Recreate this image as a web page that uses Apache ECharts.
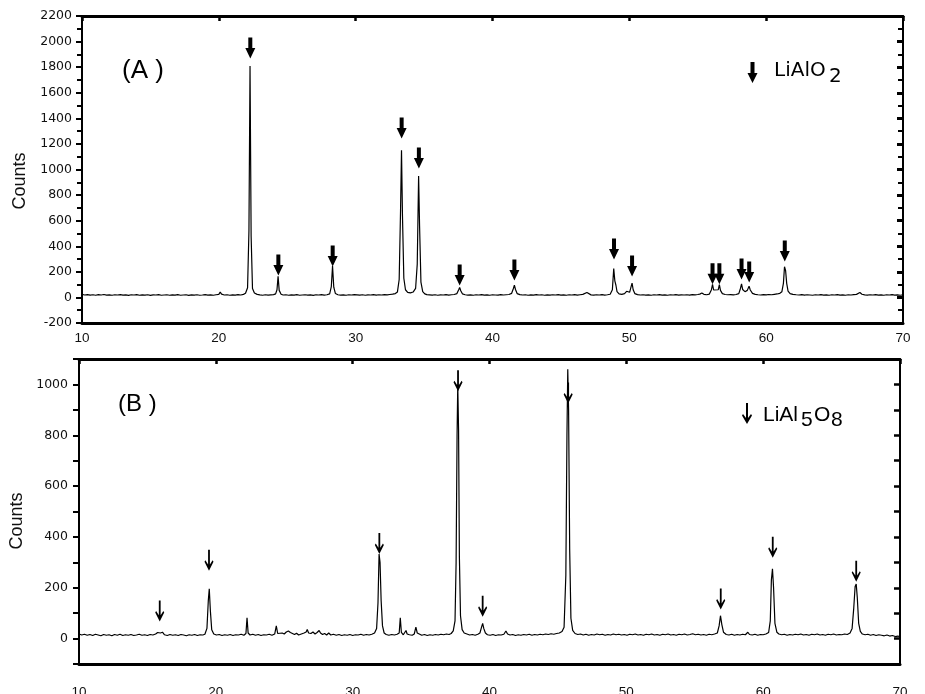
<!DOCTYPE html>
<html>
<head>
<meta charset="utf-8">
<script src="https://cdn.jsdelivr.net/npm/echarts@6/dist/echarts.min.js"></script>
<style>
html,body{margin:0;padding:0;background:#fff;}
#chart{width:925px;height:694px;}
</style>
</head>
<body>
<div id="chart"></div>
<script>
// ---- Panel A: LiAlO2 pattern (2theta, counts) ----
const patternA = [
[10.0,24],[10.2,19],[10.4,22],[10.6,18],[10.8,21],[11.0,17],[11.2,22],[11.4,19],[11.6,23],[11.8,18],
[12.0,20],[12.2,17],[12.4,21],[12.6,19],[12.8,22],[13.0,18],[13.2,20],[13.4,16],[13.6,21],[13.8,19],
[14.0,22],[14.2,17],[14.4,20],[14.6,18],[14.8,21],[15.0,16],[15.2,20],[15.4,19],[15.6,22],[15.8,17],
[16.0,19],[16.2,21],[16.4,17],[16.6,20],[16.8,18],[17.0,22],[17.2,17],[17.4,19],[17.6,21],[17.8,16],
[18.0,20],[18.2,18],[18.4,21],[18.6,17],[18.8,19],[19.0,22],[19.2,18],[19.4,20],[19.6,17],[19.8,21],
[20.0,24],[20.1,42],[20.2,26],[20.4,19],[20.6,21],[20.8,17],[21.0,20],[21.2,18],[21.4,22],[21.6,19],
[21.8,24],[21.95,32],[22.1,75],[22.2,520],[22.28,1810],[22.36,480],[22.46,70],[22.6,34],[22.8,24],
[23.0,20],[23.2,17],[23.4,21],[23.6,18],[23.8,20],[24.0,22],[24.15,28],[24.25,60],[24.33,165],[24.41,55],
[24.55,25],[24.7,19],[24.9,21],[25.1,17],[25.3,20],[25.5,18],[25.7,22],[25.9,17],[26.1,19],[26.3,21],
[26.5,18],[26.7,20],[26.9,16],[27.1,21],[27.3,19],[27.5,22],[27.7,18],[27.9,21],[28.1,28],[28.22,85],
[28.31,245],[28.4,80],[28.52,30],[28.7,21],[28.9,18],[29.1,20],[29.3,17],[29.5,21],[29.7,19],[29.9,22],
[30.0,30],[30.1,20],[30.3,18],[30.5,21],[30.7,17],[30.9,20],[31.1,19],[31.3,22],[31.5,18],[31.7,21],
[31.9,19],[32.1,22],[32.3,20],[32.5,23],[32.7,26],[32.9,30],[33.05,42],[33.18,140],[33.28,680],[33.35,1150],
[33.42,640],[33.52,150],[33.64,60],[33.8,40],[34.0,35],[34.2,42],[34.38,70],[34.5,260],[34.6,950],[34.67,560],
[34.77,120],[34.9,45],[35.05,28],[35.2,22],[35.4,20],[35.6,18],[35.8,21],[36.0,17],[36.2,20],[36.4,19],
[36.6,22],[36.8,18],[37.0,21],[37.2,23],[37.4,30],[37.52,58],[37.6,78],[37.68,52],[37.8,28],[38.0,21],
[38.2,18],[38.4,20],[38.6,17],[38.8,21],[39.0,19],[39.2,22],[39.4,18],[39.6,20],[39.8,17],[40.0,21],
[40.2,19],[40.4,18],[40.6,22],[40.8,19],[41.0,21],[41.2,23],[41.4,32],[41.52,68],[41.6,95],[41.68,62],
[41.8,30],[42.0,22],[42.2,19],[42.4,21],[42.6,17],[42.8,20],[43.0,18],[43.2,22],[43.4,19],[43.6,21],
[43.8,17],[44.0,20],[44.2,18],[44.4,21],[44.6,19],[44.8,22],[45.0,18],[45.2,20],[45.4,17],[45.6,21],
[45.8,19],[46.0,22],[46.2,18],[46.4,21],[46.6,24],[46.9,38],[47.0,25],[47.2,20],[47.4,18],[47.6,21],
[47.8,19],[48.0,22],[48.2,18],[48.4,21],[48.6,25],[48.76,60],[48.86,225],[48.94,130],[49.02,95],[49.1,45],
[49.25,28],[49.45,24],[49.65,30],[49.8,48],[49.9,35],[50.02,40],[50.12,80],[50.2,112],[50.28,60],[50.4,30],
[50.6,22],[50.8,19],[51.0,21],[51.2,18],[51.4,20],[51.6,17],[51.8,21],[52.0,19],[52.2,22],[52.4,18],
[52.6,20],[52.8,17],[53.0,21],[53.2,19],[53.4,22],[53.6,18],[53.8,20],[54.0,19],[54.2,21],[54.4,18],
[54.6,22],[54.8,20],[55.0,23],[55.15,26],[55.3,34],[55.45,24],[55.65,21],[55.85,26],[56.0,60],[56.08,102],
[56.16,58],[56.3,45],[56.5,60],[56.58,100],[56.66,55],[56.8,30],[57.0,23],[57.2,21],[57.4,22],[57.6,20],
[57.8,23],[58.0,30],[58.12,70],[58.2,105],[58.28,62],[58.45,45],[58.62,55],[58.75,88],[58.84,58],[59.0,32],
[59.2,24],[59.4,21],[59.6,19],[59.8,22],[60.0,20],[60.2,23],[60.4,21],[60.6,24],[60.8,27],[61.0,32],
[61.15,45],[61.26,110],[61.34,240],[61.42,210],[61.5,110],[61.6,50],[61.75,30],[61.95,24],[62.2,21],[62.4,19],
[62.6,22],[62.8,18],[63.0,21],[63.2,19],[63.4,17],[63.6,21],[63.8,19],[64.0,22],[64.2,18],[64.4,20],
[64.6,17],[64.8,21],[65.0,19],[65.2,22],[65.4,18],[65.6,20],[65.8,17],[66.0,21],[66.2,19],[66.4,22],
[66.6,24],[66.85,38],[67.0,25],[67.2,20],[67.4,18],[67.6,21],[67.8,19],[68.0,22],[68.2,18],[68.4,20],
[68.6,17],[68.8,21],[69.0,19],[69.2,22],[69.4,18],[69.6,20],[69.8,17],[70.0,20]
];
// arrow tips for panel A (2theta, counts at the arrow tip)
const arrowsA = [
[22.3,1867],[24.35,172],[28.32,242],[33.36,1242],[34.62,1008],[37.6,94],[41.6,133],[48.88,297],
[50.2,164],[56.08,102],[56.58,102],[58.2,141],[58.76,117],[61.36,281]
];

// ---- Panel B: LiAl5O8 pattern (2theta, counts) ----
const patternB = [
[10.0,18],[10.2,14],[10.4,17],[10.6,13],[10.8,16],[11.0,12],[11.2,17],[11.4,14],[11.6,11],[11.8,16],
[12.0,13],[12.2,15],[12.4,11],[12.6,16],[12.8,13],[13.0,17],[13.2,12],[13.4,15],[13.6,13],[13.8,16],
[14.0,12],[14.2,14],[14.4,17],[14.6,13],[14.8,15],[15.0,12],[15.2,16],[15.4,14],[15.6,18],[15.75,24],
[15.85,28],[15.95,22],[16.1,25],[16.25,15],[16.45,12],[16.65,16],[16.85,13],[17.05,15],[17.25,12],[17.45,16],
[17.65,14],[17.85,11],[18.05,15],[18.25,13],[18.45,16],[18.65,12],[18.85,15],[19.05,14],[19.2,17],[19.35,40],
[19.45,150],[19.52,196],[19.6,110],[19.7,35],[19.85,18],[20.05,14],[20.25,16],[20.45,12],[20.65,15],[20.85,13],
[21.05,16],[21.25,12],[21.45,15],[21.65,14],[21.85,17],[22.05,13],[22.2,20],[22.28,82],[22.36,22],[22.5,14],
[22.7,17],[22.9,13],[23.1,16],[23.3,12],[23.5,15],[23.7,14],[23.9,17],[24.1,13],[24.3,18],[24.42,50],
[24.52,20],[24.65,15],[24.85,22],[25.0,18],[25.15,26],[25.3,30],[25.45,24],[25.6,20],[25.75,16],[25.9,21],
[26.05,14],[26.25,18],[26.45,22],[26.6,26],[26.68,36],[26.78,22],[26.95,20],[27.1,26],[27.25,18],[27.4,24],
[27.55,32],[27.65,22],[27.8,16],[27.95,20],[28.1,14],[28.25,22],[28.4,14],[28.6,17],[28.8,13],[29.0,16],
[29.2,12],[29.4,15],[29.6,13],[29.8,16],[30.0,12],[30.2,15],[30.4,14],[30.6,17],[30.8,13],[31.0,16],
[31.2,14],[31.4,17],[31.6,22],[31.75,40],[31.85,140],[31.93,333],[32.0,300],[32.08,150],[32.18,50],[32.3,22],
[32.45,16],[32.65,13],[32.85,16],[33.05,14],[33.25,17],[33.4,22],[33.48,82],[33.56,24],[33.7,15],[33.82,20],
[33.9,32],[33.98,18],[34.15,15],[34.35,13],[34.5,18],[34.62,45],[34.72,22],[34.85,15],[35.05,13],[35.25,16],
[35.45,12],[35.65,15],[35.85,13],[36.05,16],[36.25,14],[36.45,17],[36.65,15],[36.85,18],[37.05,16],[37.2,20],
[37.35,30],[37.48,70],[37.56,300],[37.63,800],[37.68,1000],[37.74,820],[37.8,320],[37.88,90],[38.0,35],[38.15,22],
[38.35,18],[38.55,14],[38.75,16],[38.95,13],[39.15,17],[39.3,22],[39.42,45],[39.5,60],[39.58,40],[39.7,22],
[39.85,15],[40.05,13],[40.25,16],[40.45,12],[40.65,15],[40.85,14],[41.05,17],[41.2,30],[41.32,18],[41.5,14],
[41.7,16],[41.9,12],[42.1,15],[42.3,13],[42.5,16],[42.7,14],[42.9,17],[43.1,13],[43.3,16],[43.5,14],
[43.7,17],[43.9,15],[44.1,18],[44.3,16],[44.5,19],[44.7,17],[44.9,20],[45.1,22],[45.3,28],[45.45,45],
[45.58,250],[45.66,800],[45.72,1060],[45.78,900],[45.86,350],[45.95,80],[46.08,32],[46.25,20],[46.45,16],[46.65,18],
[46.85,14],[47.05,17],[47.25,13],[47.45,16],[47.65,14],[47.85,18],[48.05,15],[48.25,17],[48.45,13],[48.65,16],
[48.85,14],[49.05,18],[49.25,15],[49.45,17],[49.65,14],[49.85,16],[50.05,13],[50.25,17],[50.45,15],[50.65,18],
[50.85,14],[51.05,16],[51.25,13],[51.45,17],[51.65,15],[51.85,18],[52.05,14],[52.25,16],[52.45,13],[52.65,17],
[52.85,15],[53.05,18],[53.25,14],[53.45,16],[53.65,13],[53.85,17],[54.05,15],[54.25,18],[54.45,14],[54.65,16],
[54.85,19],[55.05,15],[55.25,17],[55.45,14],[55.65,16],[55.85,13],[56.05,17],[56.25,15],[56.45,18],[56.65,22],
[56.78,50],[56.88,90],[56.98,55],[57.1,25],[57.3,16],[57.5,14],[57.7,17],[57.9,13],[58.1,16],[58.3,14],
[58.5,17],[58.7,15],[58.88,25],[59.0,16],[59.2,14],[59.4,17],[59.6,13],[59.8,16],[60.0,15],[60.2,18],
[60.4,24],[60.52,70],[60.6,230],[60.68,275],[60.76,200],[60.86,60],[61.0,25],[61.15,18],[61.35,15],[61.55,17],
[61.75,13],[61.95,16],[62.15,14],[62.35,17],[62.55,15],[62.75,18],[62.95,14],[63.15,16],[63.35,13],[63.55,17],
[63.75,15],[63.95,18],[64.15,14],[64.35,16],[64.55,13],[64.75,17],[64.95,15],[65.15,18],[65.35,14],[65.55,16],
[65.75,15],[65.95,18],[66.15,16],[66.35,22],[66.5,40],[66.62,120],[66.72,205],[66.8,215],[66.88,160],[66.98,60],
[67.1,28],[67.25,18],[67.45,15],[67.65,17],[67.85,13],[68.05,16],[68.25,12],[68.45,15],[68.65,13],[68.85,11],
[69.05,14],[69.25,10],[69.45,12],[69.65,8],[69.85,10],[70.0,6]
];
const arrowsB = [
[15.9,67],[19.5,267],[31.95,333],[37.7,973],[39.5,86],[45.75,925],[56.9,114],[60.7,318],[66.8,224]
];

// axis ranges / ticks
const xMin = 10, xMax = 70, xStep = 10;
const yA = {min: -200, max: 2200, step: 200};
const yB = {min: -100, max: 1100, step: 100, labelStep: 200};

const fillArrow = 'path://M3,0 L7,0 L7,10 L10,10 L5,20 L0,10 L3,10 Z';
const thinArrow = 'path://M4,0 L6,0 L6,15.5 L9,11 L10,12.5 L5,22 L0,12.5 L1,11 L4,15.5 Z';

const chart = echarts.init(document.getElementById('chart'), null, {renderer: 'canvas'});
const black = '#000';
const yLabelFont = {fontFamily: 'DejaVu Sans', fontSize: 12.5, color: '#111'};
const xLabelFont = {fontFamily: 'Liberation Sans', fontSize: 13.5, color: '#111'};

function bottomX(gi, margin) {
  return {type: 'value', gridIndex: gi, min: xMin, max: xMax, interval: xStep, position: 'bottom',
    axisLine: {onZero: false, lineStyle: {color: black, width: 3}},
    axisTick: {show: false}, splitLine: {show: false},
    axisLabel: Object.assign({margin: margin}, xLabelFont)};
}
function topX(gi) {
  return {type: 'value', gridIndex: gi, min: xMin, max: xMax, interval: xStep, position: 'top',
    axisLine: {onZero: false, lineStyle: {color: black, width: 3}},
    axisTick: {show: true, inside: true, length: 5, lineStyle: {color: black, width: 2.5}},
    axisLabel: {show: false}, splitLine: {show: false}};
}
function txt(x, y, s, size, family) {
  return {type: 'text', x: x, y: y, z: 10,
    style: {text: s, fontSize: size, fontFamily: family || 'Liberation Sans', fill: black,
      align: 'left', verticalAlign: 'top'}};
}
function poly(pts) {
  return {type: 'polygon', z: 10, shape: {points: pts}, style: {fill: black}};
}
const plain = function (v) { return String(v); };

const option = {
  animation: false,
  backgroundColor: '#fff',
  grid: [
    {left: 82, top: 16, width: 821, height: 307, containLabel: false, outerBoundsMode: 'none'},
    {left: 79, top: 359, width: 821, height: 305, containLabel: false, outerBoundsMode: 'none'}
  ],
  xAxis: [bottomX(0, 8), topX(0), bottomX(1, 21), topX(1)],
  yAxis: [
    {type: 'value', gridIndex: 0, min: yA.min, max: yA.max, interval: yA.step, position: 'left',
      axisLine: {onZero: false, lineStyle: {color: black, width: 2}},
      axisTick: {show: true, inside: false, length: 6, lineStyle: {color: black, width: 2}},
      minorTick: {show: true, splitNumber: 2, length: 5, lineStyle: {color: black, width: 2}},
      splitLine: {show: false}, minorSplitLine: {show: false},
      axisLabel: Object.assign({margin: 10, formatter: plain}, yLabelFont)},
    {type: 'value', gridIndex: 0, min: yA.min, max: yA.max, interval: yA.step, position: 'right',
      axisLine: {onZero: false, lineStyle: {color: black, width: 2}},
      axisTick: {show: true, inside: true, length: 6, lineStyle: {color: black, width: 3}},
      minorTick: {show: true, splitNumber: 2, length: 5, lineStyle: {color: black, width: 2}},
      splitLine: {show: false}, axisLabel: {show: false}},
    {type: 'value', gridIndex: 1, min: yB.min, max: yB.max, interval: yB.step, position: 'left',
      axisLine: {onZero: false, lineStyle: {color: black, width: 2}},
      axisTick: {show: true, inside: false, length: 6, lineStyle: {color: black, width: 2}},
      splitLine: {show: false},
      axisLabel: Object.assign({margin: 11, formatter: function (v) {
        return (v % yB.labelStep === 0 && v >= 0 && v <= 1000) ? String(v) : '';
      }}, yLabelFont)},
    {type: 'value', gridIndex: 1, min: yB.min, max: yB.max, interval: yB.step, position: 'right',
      axisLine: {onZero: false, lineStyle: {color: black, width: 2}},
      axisTick: {show: true, inside: true, length: 6, lineStyle: {color: black, width: 2.5}},
      splitLine: {show: false}, axisLabel: {show: false}}
  ],
  series: [
    {type: 'line', xAxisIndex: 0, yAxisIndex: 0, data: patternA, showSymbol: false, symbol: 'none',
      lineStyle: {color: '#000', width: 1.2}, silent: true},
    {type: 'scatter', xAxisIndex: 0, yAxisIndex: 0, data: arrowsA, symbol: fillArrow, symbolSize: [10, 21],
      symbolOffset: [0, -10.5], itemStyle: {color: black, opacity: 1}, silent: true},
    {type: 'line', xAxisIndex: 2, yAxisIndex: 2, data: patternB, showSymbol: false, symbol: 'none',
      lineStyle: {color: '#000', width: 1.2}, silent: true},
    {type: 'scatter', xAxisIndex: 2, yAxisIndex: 2, data: arrowsB, symbol: thinArrow, symbolSize: [9, 21],
      symbolOffset: [0, -10.5], itemStyle: {color: black, opacity: 1}, silent: true}
  ],
  graphic: [
    txt(122, 58, '(A )', 26),
    txt(118, 392, '(B )', 24),
    {type: 'text', x: 20, y: 181, rotation: Math.PI / 2, z: 10,
      style: {text: 'Counts', fontSize: 18, fontFamily: 'Liberation Sans', fill: '#111', align: 'center', verticalAlign: 'middle'}},
    {type: 'text', x: 17, y: 521, rotation: Math.PI / 2, z: 10,
      style: {text: 'Counts', fontSize: 18, fontFamily: 'Liberation Sans', fill: '#111', align: 'center', verticalAlign: 'middle'}},
    // legend A
    poly([[750.5,62],[754.5,62],[754.5,73],[757.5,73],[752.5,83],[747.5,73],[750.5,73]]),
    txt(774, 61, 'LiAlO', 20, 'DejaVu Sans'),
    txt(829, 67, '2', 20, 'DejaVu Sans'),
    // legend B
    poly([[746,403],[748,403],[748,418],[751,414],[752,415.5],[747,424],[742,415.5],[743,414],[746,418]]),
    txt(763, 405, 'LiAl', 21),
    txt(801, 410, '5', 21),
    txt(814, 405, 'O', 21),
    txt(831, 410, '8', 21)
  ]
};
chart.setOption(option);
</script>
</body>
</html>
